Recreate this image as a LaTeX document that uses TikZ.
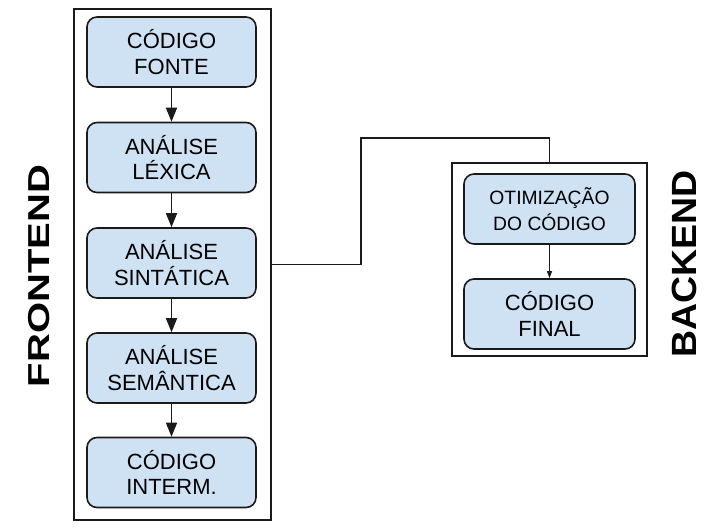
\documentclass[tikz,border=0pt]{standalone}
\usepackage{fontspec}
\setmainfont{Liberation Sans}
\usetikzlibrary{arrows.meta}
\definecolor{boxfill}{HTML}{CFE2F3}
\definecolor{edge}{HTML}{1A1A1A}
\begin{document}
\begin{tikzpicture}[x=1pt,y=-1pt,
  stepbox/.style={draw=edge,fill=boxfill,line width=1.6pt,rounded corners=10pt,
    minimum width=169pt,minimum height=70pt,align=center,inner sep=0pt,
    font=\fontsize{22}{25.7}\selectfont},
  frame/.style={draw=edge,line width=1.5pt,inner sep=0pt},
  flow/.style={draw=edge,line width=1.6pt,arrows={-Triangle[length=14pt,width=11pt]}},
  thinflow/.style={draw=edge,line width=0.9pt,arrows={-Triangle[length=7pt,width=5pt]}},
  side/.style={rotate=90,inner sep=0pt}]
\useasboundingbox (0,0) rectangle (717,531);
% frames
\node[frame,minimum width=197pt,minimum height=511pt] (fe) at (172.5,264.5) {};
\node[frame,minimum width=195pt,minimum height=193pt] (be) at (549.5,259.5) {};
% frontend boxes
\node[stepbox] (b1) at (171.5,52) {CÓDIGO\\FONTE};
\node[stepbox] (b2) at (171.5,157.5) {ANÁLISE\\LÉXICA};
\node[stepbox] (b3) at (171.5,263) {ANÁLISE\\SINTÁTICA};
\node[stepbox] (b4) at (171.5,368) {ANÁLISE\\SEMÂNTICA};
\node[stepbox] (b5) at (171.5,472.5) {CÓDIGO\\INTERM.};
% backend boxes
\node[stepbox,minimum width=171pt,font=\fontsize{19.3}{25.7}\selectfont] (c1) at (549.5,209) {OTIMIZAÇÃO\\DO CÓDIGO};
\node[stepbox,minimum width=171pt] (c2) at (549.5,314) {CÓDIGO\\FINAL};
% arrows
\draw[flow] (b1.south) -- (b2.north);
\draw[flow] (b2.south) -- (b3.north);
\draw[flow] (b3.south) -- (b4.north);
\draw[flow] (b4.south) -- (b5.north);
\draw[thinflow] (c1.south) -- (c2.north);
% connector
\coordinate (k1) at (361,138);
\draw[draw=edge,line width=1.5pt] (fe.east) -| (k1) -| (be.north);
% side labels
\node[side] (fl) at (39,276) {\fontsize{30.3}{30}\selectfont\bfseries\scalebox{1.32}[1]{FRONTEND}};
\node[side] (bl) at (684,264) {\fontsize{35}{35}\selectfont\bfseries\scalebox{1.07}[1]{BACKEND}};
\end{tikzpicture}
\end{document}
